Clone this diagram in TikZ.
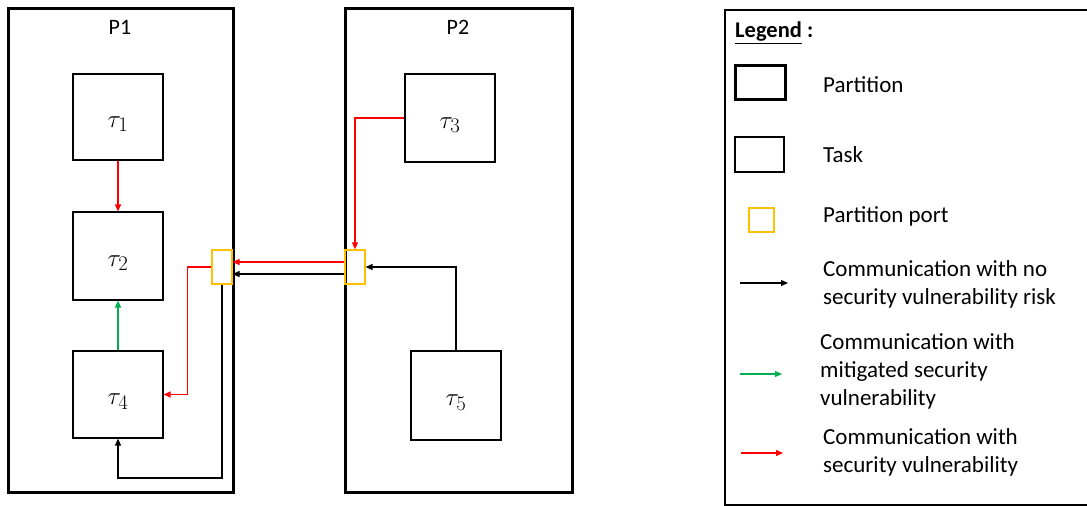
\documentclass[tikz,border=0pt]{standalone}
\usepackage{fontspec}
\setmainfont{Carlito}
\usetikzlibrary{arrows.meta}
\definecolor{portyellow}{RGB}{255,192,0}
\definecolor{mitgreen}{RGB}{0,176,80}
\begin{document}
\begin{tikzpicture}[x=1pt,y=-1pt]
            \tikzstyle{partition}=[draw,line width=3pt,inner sep=0pt]
            \tikzstyle{task}=[draw,line width=1.2pt,inner sep=0pt,text height=24pt,text depth=4pt,font=\fontsize{28}{28}\selectfont]
            \tikzstyle{port}=[draw=portyellow,line width=1.2pt,inner sep=0pt]
            \tikzstyle{link}=[line width=1.2pt,-{Triangle[length=7pt,width=6pt]}]
            \tikzstyle{legtext}=[anchor=west,align=left,inner sep=0pt,font=\fontsize{23}{28}\selectfont]
            \useasboundingbox (0,0) rectangle (1087,506);
            \node[partition,minimum width=225pt,minimum height=484pt] (P1) at (120.5,250) {};
            \node[partition,minimum width=227pt,minimum height=484pt] (P2) at (458.5,250) {};
            \node[font=\fontsize{22}{22}\selectfont] (p1name) at (120,27) {P1};
            \node[font=\fontsize{22}{22}\selectfont] (p2name) at (458,27) {P2};
            \node[task,minimum width=90pt,minimum height=86pt] (t1) at (118,117) {$\tau_1$};
            \node[task,minimum width=90pt,minimum height=88pt] (t2) at (118,256) {$\tau_2$};
            \node[task,minimum width=90pt,minimum height=87pt] (t4) at (118,394.5) {$\tau_4$};
            \node[task,minimum width=90pt,minimum height=88pt] (t3) at (450,118) {$\tau_3$};
            \node[task,minimum width=90pt,minimum height=89pt] (t5) at (456,395.5) {$\tau_5$};
            \node[port,minimum width=20pt,minimum height=34pt] (portL) at (222,267) {};
            \node[port,minimum width=20pt,minimum height=34pt] (portR) at (355,267) {};
            \coordinate (back) at (222,478);
            \draw[link,red] (t1) -- (t2);
            \draw[link,mitgreen] (t4) -- (t2);
            \draw[link,red] (t3.west) -| (portR.north);
            \draw[link] (t5.north) |- (portR.east);
            \draw[link,red] ([yshift=5pt]portR.west) -- ([yshift=5pt]portL.east);
            \draw[link] ([yshift=-7pt]portR.west) -- ([yshift=-7pt]portL.east);
            \draw[link,red] (portL.west) -- ++(-24,0) |- (t4.east);
            \draw[link] (portL.south) -- (back) -| (t4.south);
            \draw[line width=1.2pt] (725,10) rectangle (1092,505);
            \node[legtext,font=\fontsize{22.5}{22.5}\selectfont\bfseries] (legtitle) at (735,33) {\underline{Legend} :};
            \node[partition,minimum width=50pt,minimum height=34pt] (lpart) at (760,82) {};
            \node[task,minimum width=49pt,minimum height=35pt] (ltask) at (759.5,154.5) {};
            \node[port,minimum width=25pt,minimum height=24pt] (lport) at (761.5,220) {};
            \coordinate (lblack) at (740,283);
            \coordinate (lgreen) at (740,374);
            \coordinate (lred) at (741,453);
            \draw[link] (lblack) -- ++(48,0);
            \draw[link,mitgreen] (lgreen) -- ++(42,0);
            \draw[link,red] (lred) -- ++(42,0);
            \node[legtext] (txpart) at (823,85) {Partition};
            \node[legtext] (txtask) at (823,155) {Task};
            \node[legtext] (txport) at (823,216) {Partition port};
            \node[legtext] (txblack) at (823,284) {Communication with no\\security vulnerability risk};
            \node[legtext] (txgreen) at (820,371) {Communication with\\mitigated security\\vulnerability};
            \node[legtext] (txred) at (823,452) {Communication with\\security vulnerability};
        \end{tikzpicture}
\end{document}
